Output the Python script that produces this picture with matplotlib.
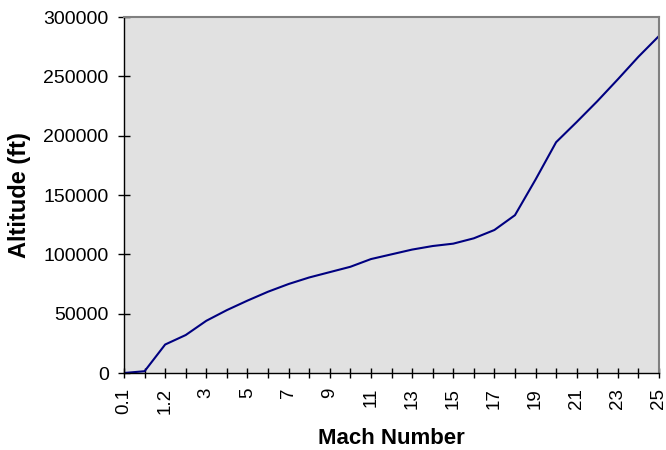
import matplotlib
matplotlib.use("Agg")
import matplotlib.pyplot as plt

plt.rcParams['font.family'] = ['Liberation Sans', 'DejaVu Sans']

# Mach number categories along the trajectory
mach = ["0.1", "1", "1.2", "2", "3", "4", "5", "6", "7", "8", "9", "10", "11", "12",
        "13", "14", "15", "16", "17", "18", "19", "20", "21", "22", "23", "24", "25"]
# Altitude (ft) reached at each Mach number
altitude = [0, 1500, 24000, 32000, 44000, 53000, 61000, 68500, 75000, 80500,
            85000, 89500, 96000, 100000, 104000, 107000, 109000, 113500, 120500,
            133000, 163000, 194500, 211500, 229000, 247500, 266500, 284000]

fig = plt.figure(figsize=(6.66, 4.5), dpi=100)
ax = fig.add_axes([124 / 666, 1 - 373 / 450, (659 - 124) / 666, (373 - 17) / 450])

x = list(range(len(mach)))
ax.plot(x, altitude, color="#000080", linewidth=1.5)

ax.set_facecolor("#e1e1e1")
ax.set_xlim(0, len(mach) - 1)
ax.set_ylim(0, 300000)
ax.set_yticks(range(0, 300001, 50000))
ax.set_yticklabels([str(v) for v in range(0, 300001, 50000)], fontsize=14)
ax.set_xticks(x)
ax.set_xticklabels([m if i % 2 == 0 else "" for i, m in enumerate(mach)],
                   rotation=90, fontsize=13.5)

for side in ("top", "right"):
    ax.spines[side].set_color("#808080")
    ax.spines[side].set_linewidth(1.5)
for side in ("left", "bottom"):
    ax.spines[side].set_color("black")
    ax.spines[side].set_linewidth(1.0)

ax.tick_params(axis="y", direction="inout", length=8, width=1, color="black", pad=7)
ax.tick_params(axis="x", direction="inout", length=7.5, width=1, color="black", pad=7)

ax.set_xlabel("Mach Number", fontsize=16, fontweight="bold")
ax.xaxis.set_label_coords(0.5, -0.155)
ax.set_ylabel("Altitude (ft)", fontsize=17, fontweight="bold", labelpad=9)

fig.savefig("out.png", dpi=100)
